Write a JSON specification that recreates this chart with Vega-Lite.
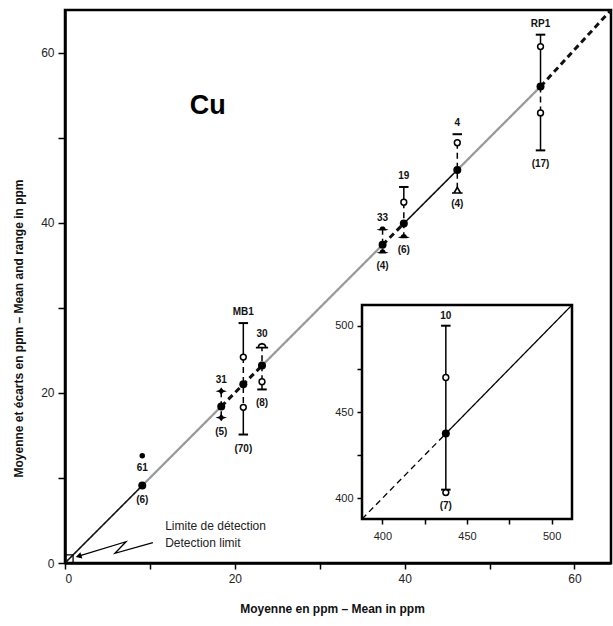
{
"$schema": "https://vega.github.io/schema/vega-lite/v6.json",
"width": 546,
"height": 553,
"autosize": {"type": "none"},
"padding": {"left": 65, "top": 10, "right": 2, "bottom": 63},
"background": "white",
"config": {
  "view": {"stroke": "black", "strokeWidth": 2.5},
  "font": "Liberation Sans",
  "axis": {"grid": false, "domainColor": "black", "domainWidth": 2.5, "tickColor": "black", "tickWidth": 1.5, "labelColor": "#222", "labelFont": "Liberation Sans", "titleFont": "Liberation Sans", "titleColor": "#111"}
},
"datasets": {
  "diag": [
    {"seg": "a", "style": "solid", "x": 0, "y": 0}, {"seg": "a", "style": "solid", "x": 9.1, "y": 9.1},
    {"seg": "b", "style": "gray", "x": 9.1, "y": 9.1}, {"seg": "b", "style": "gray", "x": 18.4, "y": 18.4},
    {"seg": "c", "style": "dashed", "x": 18.4, "y": 18.4}, {"seg": "c", "style": "dashed", "x": 23.2, "y": 23.2},
    {"seg": "d", "style": "gray", "x": 23.2, "y": 23.2}, {"seg": "d", "style": "gray", "x": 37.4, "y": 37.4},
    {"seg": "e", "style": "dashed", "x": 37.4, "y": 37.4}, {"seg": "e", "style": "dashed", "x": 39.9, "y": 39.9},
    {"seg": "f", "style": "solid", "x": 39.9, "y": 39.9}, {"seg": "f", "style": "solid", "x": 46.2, "y": 46.2},
    {"seg": "g", "style": "gray", "x": 46.2, "y": 46.2}, {"seg": "g", "style": "gray", "x": 56.0, "y": 56.0},
    {"seg": "h", "style": "dashed", "x": 56.0, "y": 56.0}, {"seg": "h", "style": "dashed", "x": 64.3, "y": 65}
  ],
  "marks": [
    {"s": "61", "kind": "mean", "x": 9.1, "y": 9.1}, {"s": "61", "kind": "star", "x": 9.1, "y": 12.6},
    {"s": "31", "kind": "diamond", "x": 18.4, "y": 20.2}, {"s": "31", "kind": "mean", "x": 18.4, "y": 18.4}, {"s": "31", "kind": "diamond", "x": 18.4, "y": 17.1},
    {"s": "MB1", "kind": "cap", "x": 21.0, "y": 28.2}, {"s": "MB1", "kind": "open", "x": 21.0, "y": 24.2}, {"s": "MB1", "kind": "mean", "x": 21.0, "y": 21.0}, {"s": "MB1", "kind": "open", "x": 21.0, "y": 18.3}, {"s": "MB1", "kind": "cap", "x": 21.0, "y": 15.1},
    {"s": "30", "kind": "dome", "x": 23.2, "y": 25.6}, {"s": "30", "kind": "mean", "x": 23.2, "y": 23.2}, {"s": "30", "kind": "open", "x": 23.2, "y": 21.3}, {"s": "30", "kind": "cap", "x": 23.2, "y": 20.4},
    {"s": "33", "kind": "ufo", "x": 37.4, "y": 39.3}, {"s": "33", "kind": "mean", "x": 37.4, "y": 37.4}, {"s": "33", "kind": "ufo", "x": 37.4, "y": 36.6},
    {"s": "19", "kind": "cap", "x": 39.9, "y": 44.2}, {"s": "19", "kind": "open", "x": 39.9, "y": 42.4}, {"s": "19", "kind": "mean", "x": 39.9, "y": 39.9}, {"s": "19", "kind": "ufo", "x": 39.9, "y": 38.4},
    {"s": "4", "kind": "cap", "x": 46.2, "y": 50.4}, {"s": "4", "kind": "open", "x": 46.2, "y": 49.4}, {"s": "4", "kind": "mean", "x": 46.2, "y": 46.2}, {"s": "4", "kind": "tri", "x": 46.2, "y": 43.8},
    {"s": "RP1", "kind": "cap", "x": 56.0, "y": 62.1}, {"s": "RP1", "kind": "open", "x": 56.0, "y": 60.7}, {"s": "RP1", "kind": "mean", "x": 56.0, "y": 56.0}, {"s": "RP1", "kind": "open", "x": 56.0, "y": 52.9}, {"s": "RP1", "kind": "cap", "x": 56.0, "y": 48.5}
  ],
  "whisk": [
    {"s": "31", "x": 18.4, "y": 20.2, "y2": 17.1, "style": "dashed"},
    {"s": "MB1", "x": 21.0, "y": 28.2, "y2": 24.2, "style": "solid"},
    {"s": "MB1", "x": 21.0, "y": 24.2, "y2": 18.3, "style": "dashed"},
    {"s": "MB1", "x": 21.0, "y": 18.3, "y2": 15.1, "style": "solid"},
    {"s": "30", "x": 23.2, "y": 25.6, "y2": 21.3, "style": "dashed"},
    {"s": "30", "x": 23.2, "y": 21.3, "y2": 20.4, "style": "solid"},
    {"s": "33", "x": 37.4, "y": 39.3, "y2": 36.6, "style": "dashed"},
    {"s": "19", "x": 39.9, "y": 44.2, "y2": 42.4, "style": "solid"},
    {"s": "19", "x": 39.9, "y": 42.4, "y2": 38.4, "style": "dashed"},
    {"s": "4", "x": 46.2, "y": 49.4, "y2": 43.8, "style": "dashed"},
    {"s": "RP1", "x": 56.0, "y": 62.1, "y2": 56.0, "style": "solid"},
    {"s": "RP1", "x": 56.0, "y": 56.0, "y2": 52.9, "style": "dashed"},
    {"s": "RP1", "x": 56.0, "y": 52.9, "y2": 48.5, "style": "solid"}
  ],
  "labels": [
    {"text": "61", "x": 9.1, "y": 12.6, "pos": "under"}, {"text": "(6)", "x": 9.1, "y": 9.1, "pos": "below"},
    {"text": "31", "x": 18.4, "y": 20.2, "pos": "above"}, {"text": "(5)", "x": 18.4, "y": 17.1, "pos": "below"},
    {"text": "MB1", "x": 21.0, "y": 28.2, "pos": "above"}, {"text": "(70)", "x": 21.0, "y": 15.1, "pos": "below"},
    {"text": "30", "x": 23.2, "y": 25.6, "pos": "above"}, {"text": "(8)", "x": 23.2, "y": 20.4, "pos": "below"},
    {"text": "33", "x": 37.4, "y": 39.3, "pos": "above"}, {"text": "(4)", "x": 37.4, "y": 36.6, "pos": "below"},
    {"text": "19", "x": 39.9, "y": 44.2, "pos": "above"}, {"text": "(6)", "x": 39.9, "y": 38.4, "pos": "below"},
    {"text": "4", "x": 46.2, "y": 50.4, "pos": "above"}, {"text": "(4)", "x": 46.2, "y": 43.8, "pos": "below"},
    {"text": "RP1", "x": 56.0, "y": 62.1, "pos": "above"}, {"text": "(17)", "x": 56.0, "y": 48.5, "pos": "below"}
  ],
  "cu": [{"text": "Cu", "x": 16.8, "y": 53.7}],
  "detect": [
    {"text": "Limite de détection", "x": 11.8, "y": 4.35},
    {"text": "Detection limit", "x": 11.8, "y": 2.35}
  ],
  "zig": [
    {"i": 1, "x": 10.35, "y": 2.39},
    {"i": 2, "x": 5.88, "y": 1.14},
    {"i": 3, "x": 7.18, "y": 2.5},
    {"i": 4, "x": 1.6, "y": 0.8}
  ],
  "originBox": [{"x": 0, "x2": 0.95, "y": 0, "y2": 0.95}],
  "insetFrame": [{"x": 388, "x2": 512, "y": 388, "y2": 512}],
  "insetDiag": [
    {"seg": "a", "style": "dashed", "x": 388, "y": 388}, {"seg": "a", "style": "dashed", "x": 437.5, "y": 437.5},
    {"seg": "b", "style": "solid", "x": 437.5, "y": 437.5}, {"seg": "b", "style": "solid", "x": 512, "y": 512}
  ],
  "insetMarks": [
    {"s": "10", "kind": "cap", "x": 437.5, "y": 500},
    {"s": "10", "kind": "open", "x": 437.5, "y": 470},
    {"s": "10", "kind": "mean", "x": 437.5, "y": 437.5},
    {"s": "10", "kind": "cap", "x": 437.5, "y": 405},
    {"s": "10", "kind": "open", "x": 437.5, "y": 403.3}
  ],
  "insetWhisk": [{"s": "10", "x": 437.5, "y": 500, "y2": 405, "style": "solid"}],
  "insetLabels": [
    {"text": "10", "x": 437.5, "y": 500, "pos": "above"},
    {"text": "(7)", "x": 437.5, "y": 403.3, "pos": "below"}
  ]
},
"layer": [
  {
    "encoding": {
      "x": {"field": "x", "type": "quantitative",
        "scale": {"domain": [0, 64.3], "nice": false, "zero": false},
        "axis": {"title": "Moyenne en ppm – Mean in ppm", "values": [0, 10, 20, 30, 40, 50, 60],
          "labelExpr": "datum.value % 20 == 0 ? datum.label : ''", "tickSize": 6, "labelFontSize": 12, "labelPadding": 4,
          "titleFontSize": 12, "titleFontWeight": "bold", "titleX": 267, "titleY": 40, "titleBaseline": "top", "titleAlign": "center"}},
      "y": {"field": "y", "type": "quantitative",
        "scale": {"domain": [0, 65], "nice": false, "zero": false},
        "axis": {"title": "Moyenne et écarts en ppm – Mean and range in ppm", "values": [0, 10, 20, 30, 40, 50, 60],
          "labelExpr": "datum.value % 20 == 0 ? datum.label : ''", "tickSize": 7, "labelFontSize": 12, "labelPadding": 4,
          "titleFontSize": 12, "titleFontWeight": "bold", "titleX": -40, "titleY": 318, "titleAlign": "center", "titleBaseline": "bottom"}}
    },
    "layer": [
      {"data": {"name": "diag"}, "mark": {"type": "line", "clip": true},
       "encoding": {
         "detail": {"field": "seg"},
         "color": {"field": "style", "scale": {"domain": ["solid", "gray", "dashed"], "range": ["#111111", "#9a9a9a", "#111111"]}, "legend": null},
         "strokeDash": {"field": "style", "scale": {"domain": ["solid", "gray", "dashed"], "range": [[1, 0], [1, 0], [6, 4]]}, "legend": null},
         "strokeWidth": {"field": "style", "scale": {"domain": ["solid", "gray", "dashed"], "range": [1.6, 3, 1.6]}, "legend": null}
       }},
      {"data": {"name": "originBox"}, "mark": {"type": "rect", "fill": "white", "fillOpacity": 0, "stroke": "black", "strokeWidth": 1.3},
       "encoding": {"x2": {"field": "x2"}, "y2": {"field": "y2"}}},
      {"data": {"name": "zig"}, "mark": {"type": "line", "color": "black", "strokeWidth": 1.3},
       "encoding": {"order": {"field": "i"}}},
      {"data": {"name": "zig"}, "transform": [{"filter": "datum.i == 4"}],
       "mark": {"type": "point", "shape": "triangle-left", "angle": -17, "filled": true, "color": "black", "size": 45, "opacity": 1}},
      {"data": {"name": "whisk"}, "mark": {"type": "rule", "color": "black", "strokeWidth": 1.5},
       "encoding": {"y2": {"field": "y2"},
         "strokeDash": {"field": "style", "scale": {"domain": ["solid", "dashed"], "range": [[1, 0], [4, 3]]}, "legend": null}}},
      {"data": {"name": "marks"}, "transform": [{"filter": "datum.kind == 'open'"}],
       "mark": {"type": "point", "shape": "circle", "size": 34, "filled": true, "fill": "white", "stroke": "black", "strokeWidth": 1.5, "opacity": 1}},
      {"data": {"name": "marks"}, "transform": [{"filter": "datum.kind == 'cap'"}],
       "mark": {"type": "point", "shape": "M-1,0L1,0", "size": 90, "filled": false, "stroke": "black", "strokeWidth": 2, "opacity": 1}},
      {"data": {"name": "marks"}, "transform": [{"filter": "datum.kind == 'dome'"}],
       "mark": {"type": "point", "shape": "M-1,0.4L1,0.4M-0.6,0.4L-0.55,0.1L-0.4,-0.12L0,-0.25L0.4,-0.12L0.55,0.1L0.6,0.4", "size": 150, "filled": true, "fill": "white", "stroke": "black", "strokeWidth": 1.6, "opacity": 1}},
      {"data": {"name": "marks"}, "transform": [{"filter": "datum.kind == 'tri'"}],
       "mark": {"type": "point", "shape": "M-0.9,0.45L0.9,0.45M-0.55,0.45L0,-0.5L0.55,0.45Z", "size": 140, "filled": true, "fill": "white", "stroke": "black", "strokeWidth": 1.6, "opacity": 1}},
      {"data": {"name": "marks"}, "transform": [{"filter": "datum.kind == 'mean'"}],
       "mark": {"type": "point", "shape": "circle", "size": 64, "filled": true, "color": "black", "opacity": 1}},
      {"data": {"name": "marks"}, "transform": [{"filter": "datum.kind == 'star'"}],
       "mark": {"type": "point", "shape": "circle", "size": 30, "filled": true, "color": "black", "opacity": 1}},
      {"data": {"name": "marks"}, "transform": [{"filter": "datum.kind == 'diamond'"}],
       "mark": {"type": "point", "shape": "M-1,0L-0.35,-0.2L0,-0.65L0.35,-0.2L1,0L0.35,0.2L0,0.65L-0.35,0.2Z", "size": 130, "filled": true, "color": "black", "opacity": 1}},
      {"data": {"name": "marks"}, "transform": [{"filter": "datum.kind == 'ufo'"}],
       "mark": {"type": "point", "shape": "M-1,0.15L-0.5,0.05L-0.4,-0.2L-0.2,-0.35L0.2,-0.35L0.4,-0.2L0.5,0.05L1,0.15L0.5,0.32L-0.5,0.32Z", "size": 150, "filled": true, "color": "black", "opacity": 1}},
      {"data": {"name": "labels"}, "transform": [{"filter": "datum.pos == 'above'"}],
       "mark": {"type": "text", "dy": -11, "fontSize": 10, "fontWeight": "bold", "baseline": "middle", "color": "#111"},
       "encoding": {"text": {"field": "text"}}},
      {"data": {"name": "labels"}, "transform": [{"filter": "datum.pos == 'under'"}],
       "mark": {"type": "text", "dy": 12, "fontSize": 10, "fontWeight": "bold", "baseline": "middle", "color": "#111"},
       "encoding": {"text": {"field": "text"}}},
      {"data": {"name": "labels"}, "transform": [{"filter": "datum.pos == 'below'"}],
       "mark": {"type": "text", "dy": 14, "fontSize": 10, "fontWeight": "bold", "baseline": "middle", "color": "#111"},
       "encoding": {"text": {"field": "text"}}},
      {"data": {"name": "cu"}, "mark": {"type": "text", "fontSize": 27, "fontWeight": "bold", "baseline": "middle", "color": "black"},
       "encoding": {"text": {"field": "text"}}},
      {"data": {"name": "detect"}, "mark": {"type": "text", "fontSize": 12, "align": "left", "baseline": "middle", "color": "#222"},
       "encoding": {"text": {"field": "text"}}}
    ]
  },
  {
    "encoding": {
      "x": {"field": "x", "type": "quantitative",
        "scale": {"domain": [388, 512], "range": [297, 507], "nice": false, "zero": false},
        "axis": {"orient": "bottom", "offset": -44, "title": null, "values": [400, 425, 450, 475, 500],
          "labelExpr": "datum.value % 50 == 0 ? datum.label : ''", "domain": false, "tickSize": 5, "labelFontSize": 11, "labelPadding": 6, "zindex": 1}},
      "y": {"field": "y", "type": "quantitative",
        "scale": {"domain": [388, 512], "range": [509, 295], "nice": false, "zero": false},
        "axis": {"orient": "left", "offset": -297, "title": null, "values": [400, 425, 450, 475, 500],
          "labelExpr": "datum.value % 50 == 0 ? datum.label : ''", "domain": false, "tickSize": 5, "labelFontSize": 11, "labelPadding": 4, "zindex": 1}}
    },
    "layer": [
      {"data": {"name": "insetFrame"}, "mark": {"type": "rect", "fill": "white", "stroke": "black", "strokeWidth": 2.5},
       "encoding": {"x2": {"field": "x2"}, "y2": {"field": "y2"}}},
      {"data": {"name": "insetDiag"}, "mark": {"type": "line", "color": "black", "strokeWidth": 1.3},
       "encoding": {"detail": {"field": "seg"},
         "strokeDash": {"field": "style", "scale": {"domain": ["solid", "dashed"], "range": [[1, 0], [5, 3]]}, "legend": null}}},
      {"data": {"name": "insetWhisk"}, "mark": {"type": "rule", "color": "black", "strokeWidth": 1.5},
       "encoding": {"y2": {"field": "y2"}}},
      {"data": {"name": "insetMarks"}, "transform": [{"filter": "datum.kind == 'cap'"}],
       "mark": {"type": "point", "shape": "M-1,0L1,0", "size": 90, "filled": false, "stroke": "black", "strokeWidth": 2, "opacity": 1}},
      {"data": {"name": "insetMarks"}, "transform": [{"filter": "datum.kind == 'open'"}],
       "mark": {"type": "point", "shape": "circle", "size": 34, "filled": true, "fill": "white", "stroke": "black", "strokeWidth": 1.5, "opacity": 1}},
      {"data": {"name": "insetMarks"}, "transform": [{"filter": "datum.kind == 'mean'"}],
       "mark": {"type": "point", "shape": "circle", "filled": true, "color": "black", "size": 64, "opacity": 1}},
      {"data": {"name": "insetLabels"}, "transform": [{"filter": "datum.pos == 'above'"}],
       "mark": {"type": "text", "dy": -10, "fontSize": 10, "fontWeight": "bold", "baseline": "middle", "color": "#111"},
       "encoding": {"text": {"field": "text"}}},
      {"data": {"name": "insetLabels"}, "transform": [{"filter": "datum.pos == 'below'"}],
       "mark": {"type": "text", "dy": 13, "fontSize": 10, "fontWeight": "bold", "baseline": "middle", "color": "#111"},
       "encoding": {"text": {"field": "text"}}}
    ]
  }
],
"resolve": {"scale": {"x": "independent", "y": "independent"}, "axis": {"x": "independent", "y": "independent"}}
}
